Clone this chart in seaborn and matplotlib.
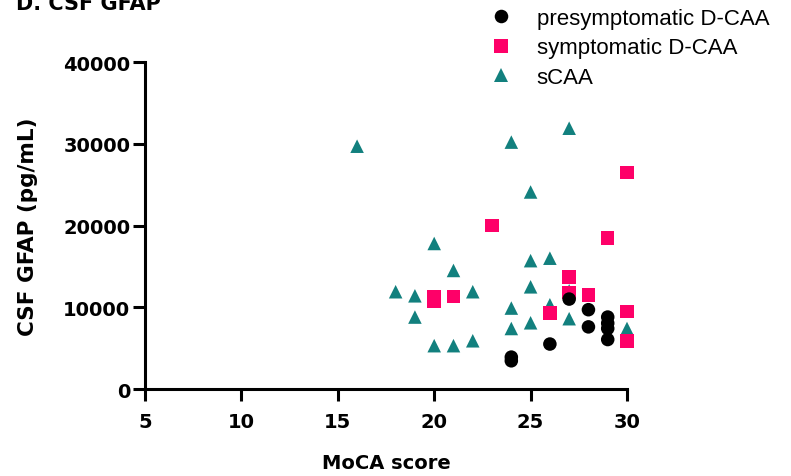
import matplotlib
matplotlib.use("Agg")
import matplotlib.pyplot as plt
import seaborn as sns
import pandas as pd

# MoCA score vs CSF GFAP per participant group
pre_moca = [24, 24, 26, 27, 28, 28, 29, 29, 29, 29]
pre_gfap = [3900, 3450, 5500, 11000, 9700, 7600, 8800, 8050, 7400, 6050]

sym_moca = [20, 20, 21, 23, 26, 27, 27, 28, 29, 30, 30, 30]
sym_gfap = [11300, 10700, 11300, 20000, 9300, 13700, 11800, 11500, 18500, 26500, 9500, 5900]

scaa_moca = [16, 18, 19, 19, 20, 20, 21, 21, 22, 22, 24, 24, 24, 25, 25, 25, 25,
             26, 26, 27, 27, 27, 30]
scaa_gfap = [29700, 11900, 11400, 8800, 17800, 5300, 14500, 5300, 11900, 5900,
             30200, 9900, 7400, 24100, 15700, 12500, 8100, 16000, 10300, 31900,
             12000, 8600, 7400]

groups = ["presymptomatic D-CAA", "symptomatic D-CAA", "sCAA"]
colors = {"presymptomatic D-CAA": "#000000",
          "symptomatic D-CAA": "#FE0068",
          "sCAA": "#12807E"}
markers = {"presymptomatic D-CAA": "o",
           "symptomatic D-CAA": "s",
           "sCAA": "^"}

x_ticks = [5, 10, 15, 20, 25, 30]
y_ticks = [0, 10000, 20000, 30000, 40000]

# sCAA drawn first, presymptomatic on top
df = pd.concat([
    pd.DataFrame({"moca": scaa_moca, "gfap": scaa_gfap, "group": groups[2]}),
    pd.DataFrame({"moca": sym_moca, "gfap": sym_gfap, "group": groups[1]}),
    pd.DataFrame({"moca": pre_moca, "gfap": pre_gfap, "group": groups[0]}),
], ignore_index=True)

sns.set_theme(style="ticks")
plt.rcParams["font.family"] = ["DejaVu Sans"]
plt.rcParams.update({"text.color": "black", "axes.labelcolor": "black",
                     "xtick.color": "black", "ytick.color": "black",
                     "axes.edgecolor": "black"})

fig = plt.figure(figsize=(7.91, 4.77), dpi=100)
ax = fig.add_axes([145 / 791, 1 - 390 / 477, (627 - 145) / 791, (390 - 63) / 477])

sns.scatterplot(data=df, x="moca", y="gfap", hue="group", style="group",
                hue_order=groups, style_order=groups, palette=colors,
                markers=markers, s=95, linewidth=0, clip_on=False, ax=ax)

ax.set_xlim(5, 30)
ax.set_ylim(0, 40000)
ax.set_xticks(x_ticks)
ax.set_yticks(y_ticks)
ax.set_xticklabels([str(v) for v in x_ticks])
ax.set_yticklabels([str(v) for v in y_ticks])

for side in ["top", "right"]:
    ax.spines[side].set_visible(False)
for side in ["left", "bottom"]:
    ax.spines[side].set_linewidth(2.2)
    ax.spines[side].set_color("black")
ax.tick_params(axis="both", length=8.5, width=2.2, color="black",
               labelsize=14, labelcolor="black")
ax.tick_params(axis="x", pad=8)
ax.tick_params(axis="y", pad=2)
for lab in ax.get_xticklabels() + ax.get_yticklabels():
    lab.set_fontweight("bold")

ax.set_xlabel("MoCA score", fontsize=14, fontweight="bold", labelpad=16,
              color="black")
ax.set_ylabel("CSF GFAP (pg/mL)", fontsize=15.5, fontweight="bold", labelpad=18,
              color="black")

handles, labels = ax.get_legend_handles_labels()
leg = ax.legend(handles, labels, loc="upper left",
                bbox_to_anchor=(490 / 791, 1 - 9 / 477),
                bbox_transform=fig.transFigure, frameon=False, borderpad=0,
                borderaxespad=0, handletextpad=1.1, labelspacing=0.38,
                handlelength=1.0, markerscale=1.0,
                prop={"family": "Liberation Sans", "size": 16})
for t in leg.get_texts():
    t.set_color("black")

fig.text(16 / 791, 1 - 10 / 477, "D. CSF GFAP", fontsize=15, fontweight="bold",
         va="baseline", ha="left", color="black")

fig.savefig("out.png", dpi=100)
